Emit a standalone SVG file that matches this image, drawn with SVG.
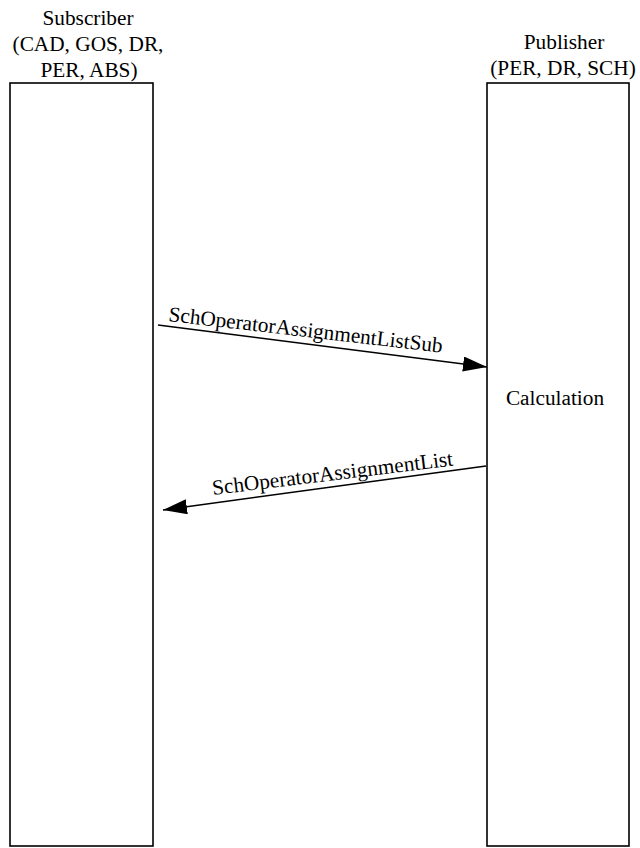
<svg xmlns="http://www.w3.org/2000/svg" width="640" height="848" viewBox="0 0 640 848">
<style>
.t{font-family:"Liberation Serif","Times New Roman",serif;font-size:21.3px;fill:#000}
.box{fill:#fff;stroke:#000;stroke-width:1.6}
.c{stroke:#000;stroke-width:1.5;fill:none}
</style>
<defs>
<marker id="ah" markerUnits="userSpaceOnUse" markerWidth="25" markerHeight="16" refX="24" refY="7.5" orient="auto">
<path d="M0,0 L24,7.5 L0,15 z" fill="#000"/>
</marker>
</defs>
<rect width="640" height="848" fill="#fff"/>
<g id="subscriber">
<rect class="box" x="10" y="83" width="143" height="763"/>
<text class="t" text-anchor="middle" x="88" y="25">Subscriber</text>
<text class="t" text-anchor="middle" x="88" y="51">(CAD, GOS, DR,</text>
<text class="t" text-anchor="middle" x="89" y="77">PER, ABS)</text>
</g>
<g id="publisher">
<rect class="box" x="487" y="83" width="142" height="763"/>
<text class="t" text-anchor="middle" x="564" y="49">Publisher</text>
<text class="t" text-anchor="middle" x="563" y="75">(PER, DR, SCH)</text>
<text class="t" text-anchor="middle" x="555" y="405">Calculation</text>
</g>
<g id="connectors">
<line class="c" x1="158" y1="325" x2="487" y2="367" marker-end="url(#ah)"/>
<text class="t" transform="translate(168,321) rotate(6.6)">SchOperatorAssignmentListSub</text>
<line class="c" x1="486" y1="466" x2="163" y2="510" marker-end="url(#ah)"/>
<text class="t" transform="translate(213,495) rotate(-7)">SchOperatorAssignmentList</text>
</g>
</svg>
